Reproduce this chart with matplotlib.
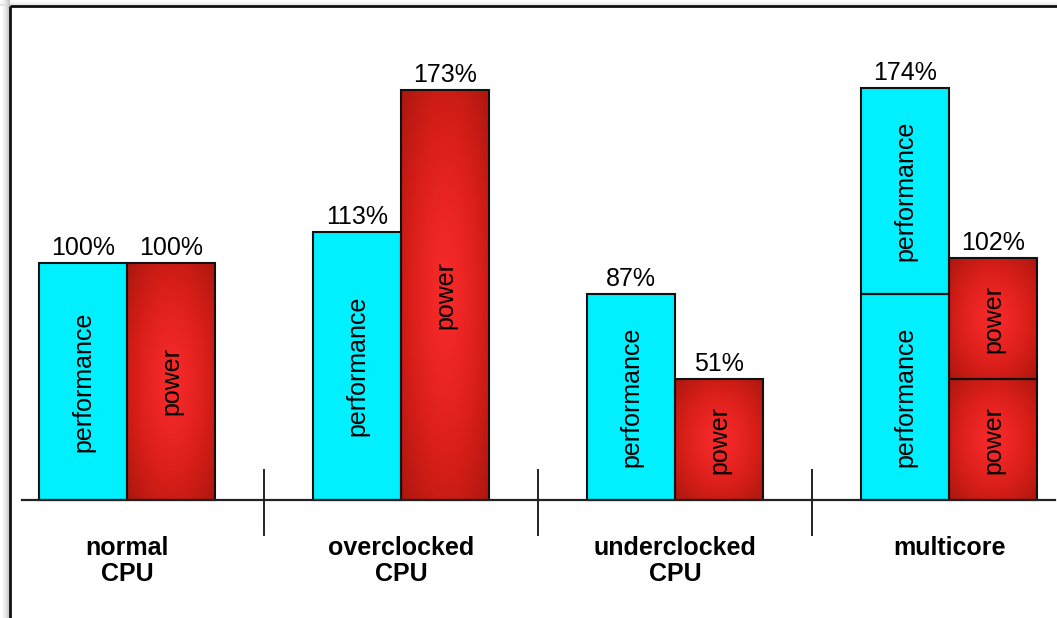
import numpy as np
import matplotlib
matplotlib.use("Agg")
import matplotlib.pyplot as plt
from matplotlib.colors import LinearSegmentedColormap

# relative performance / power of each CPU setup (stacked segments per bar)
groups = ["normal\nCPU", "overclocked\nCPU", "underclocked\nCPU", "multicore"]
performance = [[100], [113], [87], [87, 87]]
power = [[100], [173], [51], [51, 51]]

CYAN = "#00F0FF"
red_cmap = LinearSegmentedColormap.from_list("red_glow", ["#F72A2A", "#D81E18", "#AA170E"])

plt.rcParams["font.family"] = ["Liberation Sans", "DejaVu Sans"]

W, H = 1057, 618
fig = plt.figure(figsize=(W / 100, H / 100), dpi=100)

# page background with a soft drop shadow on the left and top edges
bg = fig.add_axes([0, 0, 1, 1])
bg.set_axis_off()
shade = np.ones((H, W))
xs = np.arange(W)
ys = np.arange(H)
left = np.clip(1 - 0.28 * (xs / 10.0) ** 1.5, 0, 1)
top = np.clip(1 - 0.16 * (ys / 6.0) ** 1.5, 0, 1)
shade[:, :10] = np.minimum(shade[:, :10], left[None, :10])
shade[:6, :] = np.minimum(shade[:6, :], top[:6, None])
shade[6:, 10:] = 1.0
bg.imshow(shade, cmap="gray", vmin=0, vmax=1, extent=(0, W, H, 0), aspect="auto")
bg.set_xlim(0, W)
bg.set_ylim(H, 0)
bg.plot([10, 10], [6, H], color="#111111", lw=2.0, solid_capstyle="butt")
bg.plot([10, W], [6, 6], color="#111111", lw=2.0, solid_capstyle="butt")

ax = fig.add_axes([0, 0, 1, 1])
ax.patch.set_alpha(0)
ax.set_axis_off()

spacing = 3.115
xlim = (-1.444, 10.567)
ylim = (-49.79, 210.97)


def red_fill(x0, x1, y0, y1):
    nx, ny = 60, 120
    gx, gy = np.meshgrid(np.linspace(-1, 1, nx), np.linspace(-1, 1, ny))
    r = np.sqrt(gx ** 2 + gy ** 2) / np.sqrt(2)
    ax.imshow(r ** 1.3, cmap=red_cmap, vmin=0, vmax=1, extent=(x0, x1, y0, y1),
              aspect="auto", zorder=2, interpolation="bilinear")


for i, name in enumerate(groups):
    g = i * spacing
    for kind, segs, dx in (("performance", performance[i], -0.5), ("power", power[i], 0.5)):
        x = g + dx
        bottom = 0
        for v in segs:
            if kind == "power":
                red_fill(x - 0.5, x + 0.5, bottom, bottom + v)
            else:
                ax.bar(x, v, width=1.0, bottom=bottom, color=CYAN, zorder=2)
            ax.bar(x, v, width=1.0, bottom=bottom, color="none",
                   edgecolor="#111111", linewidth=1.5, zorder=3)
            ax.text(x, bottom + v / 2, kind, rotation=90, ha="center", va="center",
                    fontsize=18, zorder=4)
            bottom += v
        ax.annotate(f"{sum(segs)}%", (x, bottom), xytext=(0, 2), textcoords="offset points",
                    ha="center", va="bottom", fontsize=18, zorder=4)
    ax.text(g, -15.0, name, ha="center", va="top", fontsize=18, fontweight="bold",
            linespacing=1.15)

# baseline and group separators
ax.plot([xlim[0] + 22 / 88, xlim[1] - 2 / 88], [0, 0], color="#222222", lw=1.6, zorder=5)
for i in range(len(groups) - 1):
    s = (i + 0.5) * spacing
    ax.plot([s, s], [12.7, -14.8], color="#222222", lw=1.4, zorder=5)

ax.set_xlim(*xlim)
ax.set_ylim(*ylim)

fig.savefig("out.png", dpi=100)
